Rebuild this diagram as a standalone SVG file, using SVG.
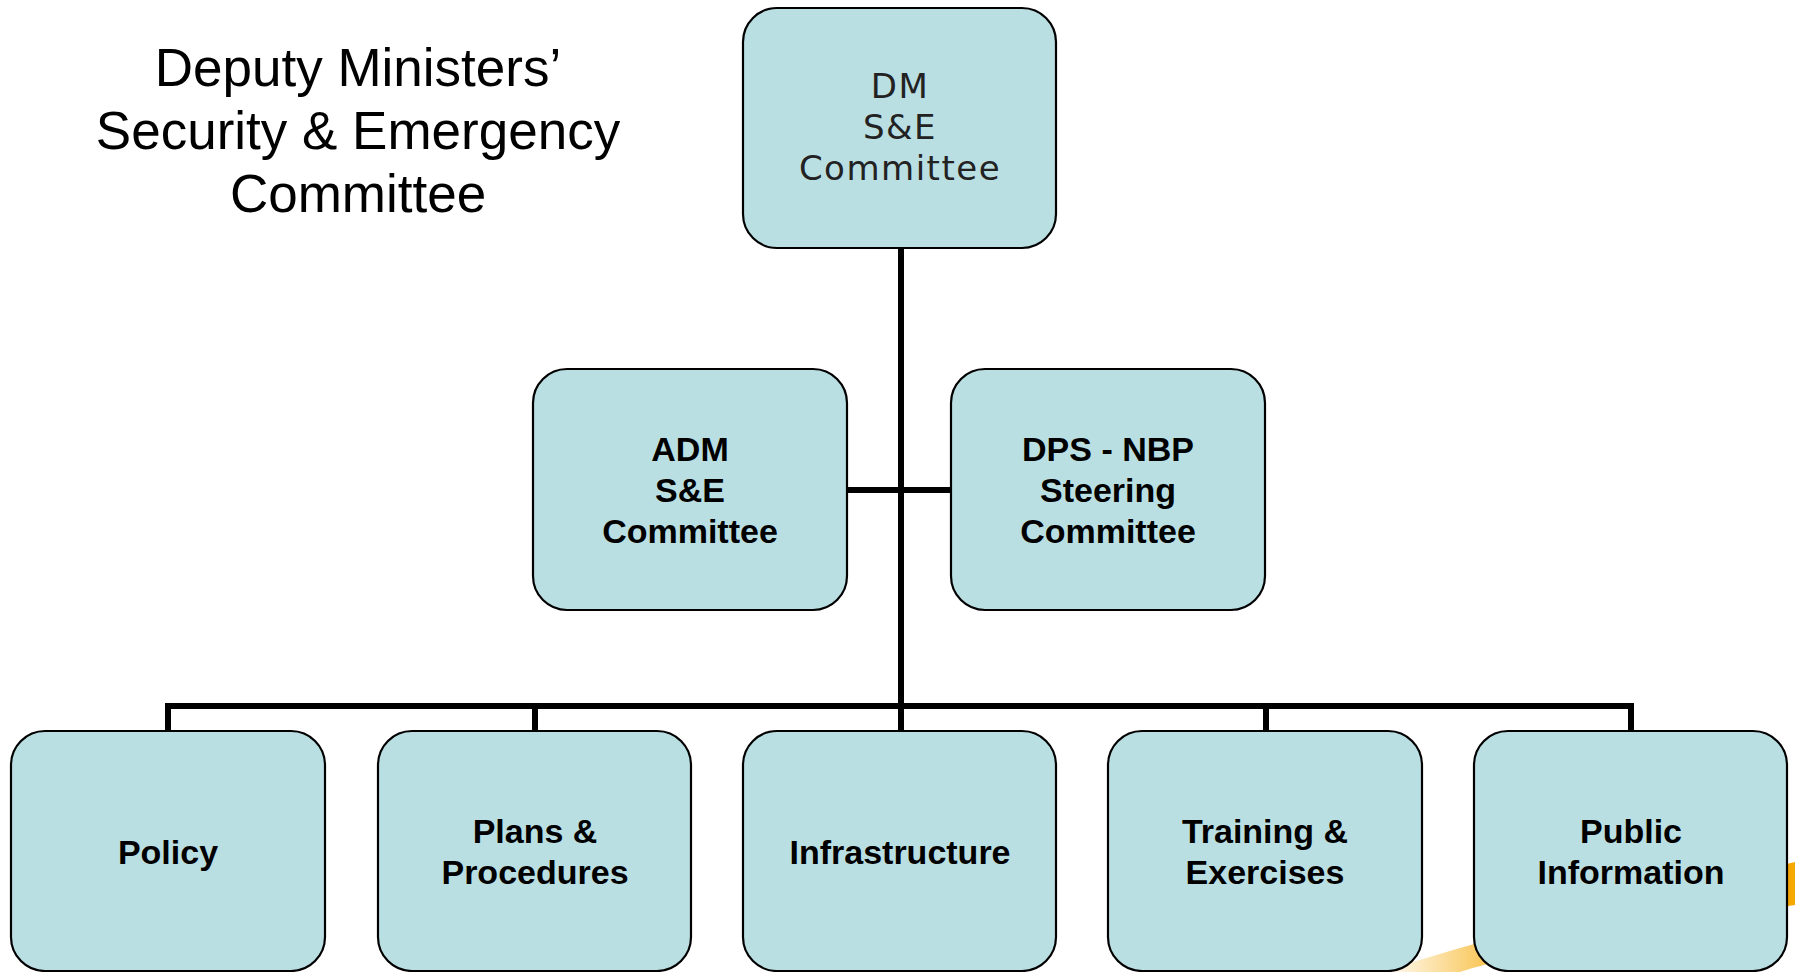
<svg xmlns="http://www.w3.org/2000/svg" width="1795" height="972" viewBox="0 0 1795 972">
<style>
.box{fill:#BADFE3;stroke:#000;stroke-width:2.2}
.b{font-family:"Liberation Sans",Arial,sans-serif;font-weight:bold;font-size:34px;fill:#000;text-anchor:middle}
.dm{font-family:"DejaVu Sans",Verdana,sans-serif;font-size:34px;fill:#222;text-anchor:middle;letter-spacing:1.5px}
.title{font-family:"Liberation Sans",Arial,sans-serif;font-size:53px;fill:#000;text-anchor:middle}
.conn{stroke:#000;stroke-width:6;fill:none}
</style>
<defs>
<linearGradient id="sw" x1="0" y1="0" x2="1" y2="0">
<stop offset="0" stop-color="#F5A800" stop-opacity="0"/>
<stop offset="0.35" stop-color="#F5A800" stop-opacity="0.9"/>
<stop offset="1" stop-color="#F5A800"/>
</linearGradient>
</defs>
<rect width="1795" height="972" fill="#fff"/>
<path d="M1380 972 C1500 935 1650 895 1795 862 L1795 905 C1660 925 1530 950 1460 972 Z" fill="url(#sw)"/>
<g id="title">
<text class="title" x="358" y="86">Deputy Ministers’</text>
<text class="title" x="358" y="149">Security &amp; Emergency</text>
<text class="title" x="358" y="212">Committee</text>
</g>
<g id="connectors">
<line class="conn" x1="901" y1="248" x2="901" y2="731"/>
<line class="conn" x1="847" y1="490" x2="951" y2="490"/>
<polyline class="conn" points="168,731 168,706 1631,706 1631,731"/>
<line class="conn" x1="535" y1="706" x2="535" y2="731"/>
<line class="conn" x1="1266" y1="706" x2="1266" y2="731"/>
</g>
<g id="dm">
<rect class="box" x="743" y="8" width="313" height="240" rx="34"/>
<text class="dm" x="900" y="98">DM</text>
<text class="dm" x="900" y="139">S&amp;E</text>
<text class="dm" x="900" y="180">Committee</text>
</g>
<g id="adm">
<rect class="box" x="533" y="369" width="314" height="241" rx="34"/>
<text class="b" x="690" y="461">ADM</text>
<text class="b" x="690" y="502">S&amp;E</text>
<text class="b" x="690" y="543">Committee</text>
</g>
<g id="dps">
<rect class="box" x="951" y="369" width="314" height="241" rx="34"/>
<text class="b" x="1108" y="461">DPS - NBP</text>
<text class="b" x="1108" y="502">Steering</text>
<text class="b" x="1108" y="543">Committee</text>
</g>
<g id="policy">
<rect class="box" x="11" y="731" width="314" height="240" rx="34"/>
<text class="b" x="168" y="864">Policy</text>
</g>
<g id="plans">
<rect class="box" x="378" y="731" width="313" height="240" rx="34"/>
<text class="b" x="535" y="843">Plans &amp;</text>
<text class="b" x="535" y="884">Procedures</text>
</g>
<g id="infrastructure">
<rect class="box" x="743" y="731" width="313" height="240" rx="34"/>
<text class="b" x="900" y="864">Infrastructure</text>
</g>
<g id="training">
<rect class="box" x="1108" y="731" width="314" height="240" rx="34"/>
<text class="b" x="1265" y="843">Training &amp;</text>
<text class="b" x="1265" y="884">Exercises</text>
</g>
<g id="public">
<rect class="box" x="1474" y="731" width="313" height="240" rx="34"/>
<text class="b" x="1631" y="843">Public</text>
<text class="b" x="1631" y="884">Information</text>
</g>
</svg>
